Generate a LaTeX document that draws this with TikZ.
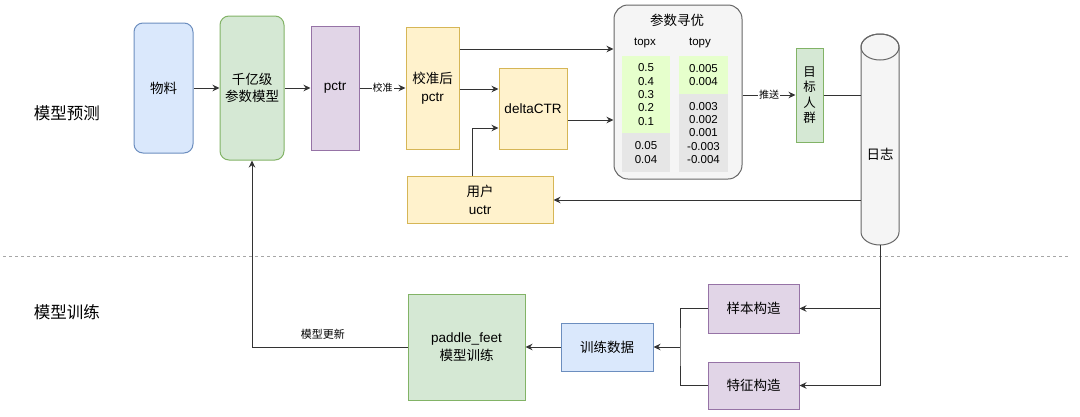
\documentclass[tikz,border=0pt]{standalone}
\usepackage{fontspec}
\setmainfont{Liberation Sans}
\newfontfamily\cjk{Noto Sans CJK SC}
\usetikzlibrary{arrows.meta}
\definecolor{blueF}{HTML}{DAE8FC}\definecolor{blueD}{HTML}{6C8EBF}
\definecolor{greenF}{HTML}{D5E8D4}\definecolor{greenD}{HTML}{82B366}
\definecolor{purpF}{HTML}{E1D5E7}\definecolor{purpD}{HTML}{9673A6}
\definecolor{yellF}{HTML}{FFF2CC}\definecolor{yellD}{HTML}{D6B656}
\definecolor{grayF}{HTML}{F5F5F5}\definecolor{grayD}{HTML}{666666}
\definecolor{hiF}{HTML}{E6FFCC}\definecolor{loF}{HTML}{E6E6E6}
\definecolor{lineC}{HTML}{333333}
\begin{document}
\begin{tikzpicture}[x=1pt,y=1pt,
  box/.style={draw, line width=1pt, align=center, inner sep=0pt, font=\fontsize{13.5}{17.5}\selectfont},
  zh/.style={font=\cjk\fontsize{13.5}{17.5}\selectfont},
  blubox/.style={box, draw=blueD, fill=blueF},
  grnbox/.style={box, draw=greenD, fill=greenF},
  purbox/.style={box, draw=purpD, fill=purpF},
  yelbox/.style={box, draw=yellD, fill=yellF},
  num/.style={inner sep=0pt, align=center, minimum width=48pt, font=\fontsize{11.5}{13.4}\selectfont},
  arr/.style={-{Stealth[length=7pt,width=6.5pt]}, line width=1pt, draw=lineC},
  ln/.style={line width=1pt, draw=lineC},
  lbl/.style={fill=white, inner sep=1pt, font=\cjk\fontsize{10}{12}\selectfont},
  sect/.style={font=\cjk\fontsize{16.5}{20}\selectfont}
]
  \useasboundingbox (0,0) rectangle (1080,-416);
  % stage separator
  \draw[gray!70, line width=1pt, dash pattern=on 3pt off 3pt] (3,-256) -- (1070,-256);
  \node[sect] (predict) at (67,-113) {模型预测};
  \node[sect] (training) at (67,-312) {模型训练};
  % prediction chain
  \node[blubox, zh, rounded corners=9pt, minimum width=59pt, minimum height=130pt] (wuliao) at (163.5,-88) {物料};
  \node[grnbox, zh, rounded corners=9pt, minimum width=64pt, minimum height=144pt] (model) at (252,-88) {千亿级\\参数模型};
  \node[purbox, minimum width=48pt, minimum height=124pt] (pctr) at (335,-88) {pctr};
  \node[yelbox, minimum width=53pt, minimum height=122pt] (calib) at (432.5,-88) {{\cjk 校准后}\\pctr};
  \node[yelbox, minimum width=68pt, minimum height=81pt] (delta) at (533,-108.5) {deltaCTR};
  \node[yelbox, minimum width=146pt, minimum height=47pt] (user) at (480,-200) {{\cjk 用户}\\uctr};
  % parameter search panel
  \node[box, draw=grayD, fill=grayF, rounded corners=14pt, minimum width=128pt, minimum height=174pt] (param) at (678,-92) {};
  \node[zh] (ptitle) at (677,-20) {参数寻优};
  \node[num] (topx) at (645,-43) {topx};
  \node[num] (topy) at (700,-43) {topy};
  \node[num, fill=hiF, minimum height=77pt] (xhi) at (646,-94.5) {0.5\\0.4\\0.3\\0.2\\0.1};
  \node[num, fill=loF, minimum height=39pt] (xlo) at (646,-152.5) {0.05\\0.04};
  \node[num, fill=hiF, minimum width=49pt, minimum height=38pt] (yhi) at (703.5,-75) {0.005\\0.004};
  \node[num, fill=loF, minimum width=49pt, minimum height=78pt] (ylo) at (703.5,-133) {0.003\\0.002\\0.001\\-0.003\\-0.004};
  \node[grnbox, font=\cjk\fontsize{12.5}{15.5}\selectfont, minimum width=27pt, minimum height=94pt] (target) at (809.5,-95) {目\\标\\人\\群};
  % log store
  \node[minimum width=38pt, minimum height=211pt, inner sep=0pt] (log) at (880,-139.5) {};
  \draw[draw=grayD, fill=grayF, line width=1pt] (861,-47) -- (861,-232)
    arc[start angle=180, end angle=360, x radius=19, y radius=13] -- (899,-47)
    arc[start angle=0, end angle=180, x radius=19, y radius=13] -- cycle;
  \draw[draw=grayD, line width=1pt] (880,-47) ellipse[x radius=19, y radius=13];
  \node[zh] (logtext) at (880,-154) {日志};
  % training chain
  \node[purbox, zh, minimum width=91pt, minimum height=49pt] (sample) at (753.5,-308.5) {样本构造};
  \node[purbox, zh, minimum width=91pt, minimum height=47pt] (feature) at (753.5,-385.5) {特征构造};
  \node[blubox, zh, minimum width=92pt, minimum height=48pt] (train) at (607,-347) {训练数据};
  \node[grnbox, minimum width=117pt, minimum height=106pt] (paddle) at (466.5,-347) {paddle\_feet\\{\cjk 模型训练}};
  \coordinate (join) at (680,-347);
  % connectors
  \draw[arr] (wuliao) -- (model);
  \draw[arr] (model) -- (pctr);
  \draw[arr] (pctr) -- node[lbl] {校准} (calib);
  \draw[arr] (calib.east |- 0,-49) -- (param.west |- 0,-49);
  \draw[arr] (calib.east |- 0,-89) -- (delta.west |- 0,-89);
  \draw[arr] (delta.east |- 0,-120) -- (param.west |- 0,-120);
  \draw[arr] (user.north -| 472,0) |- (delta.west |- 0,-128);
  \draw[arr] (param.east |- target) -- node[lbl] {推送} (target.west);
  \draw[ln] (target) -- (log.west |- target);
  \draw[arr] (log.west |- user) -- (user);
  \draw[arr] (log.south) |- (sample.east);
  \draw[arr] (log.south) |- (feature.east);
  \draw[ln] (sample.west) -| (join) |- (feature.west);
  \draw[arr] (join) -- (train.east);
  \draw[arr] (train) -- (paddle);
  \draw[arr] (paddle.west) -| node[pos=0.25, above=4pt, xshift=-7pt, font=\cjk\fontsize{11}{13}\selectfont] {模型更新} (model.south);
\end{tikzpicture}
\end{document}
